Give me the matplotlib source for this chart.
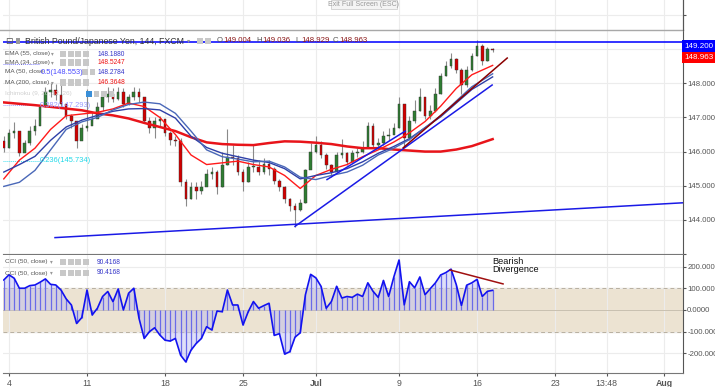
import numpy as np
import matplotlib
matplotlib.use("Agg")
import matplotlib.pyplot as plt
from matplotlib.patches import Rectangle

plt.rcParams["font.family"] = ["Liberation Sans", "DejaVu Sans"]

# ---- data (3 bars per trading day, bar 1 = Mon 4 Jun) ----
closes = [146.10, 146.55, 146.60, 145.95, 146.25, 146.60, 146.75, 147.30, 147.75, 147.80,
          147.65, 147.40, 147.05, 146.90, 146.30, 146.70, 146.75, 146.95, 147.30, 147.60,
          147.70, 147.55, 147.75, 147.40, 147.60, 147.75, 147.60, 146.90, 146.70, 146.90,
          146.95, 146.55, 146.35, 146.30, 145.10, 144.60, 144.95, 144.85, 144.95, 145.35,
          145.40, 144.95, 145.60, 145.85, 145.80, 145.40, 145.10, 145.55, 145.55, 145.40,
          145.65, 145.50, 145.15, 144.95, 144.60, 144.40, 144.30, 144.50, 145.45, 146.00,
          146.20, 145.90, 145.60, 145.40, 145.90, 145.95, 145.70, 145.95, 146.00, 146.10,
          146.75, 146.20, 146.25, 146.45, 146.50, 146.70, 147.40, 146.40, 146.90, 147.20,
          147.60, 147.05, 147.20, 147.70, 148.20, 148.50, 148.70, 148.40, 147.95, 148.40,
          148.80, 149.10, 148.65, 149.004, 148.963]
highs = [146.45, 146.66, 146.88, 146.50, 146.35, 146.75, 146.95, 147.40, 147.90, 148.00,
         147.98, 147.97, 147.40, 147.10, 146.90, 146.80, 147.84, 147.15, 147.45, 147.70,
         147.90, 147.85, 147.90, 147.85, 147.70, 147.90, 147.85, 147.60, 147.00, 147.00,
         147.05, 146.95, 146.60, 146.45, 146.40, 145.20, 145.10, 145.10, 145.15, 145.50,
         145.55, 145.45, 146.00, 146.66, 146.20, 145.90, 145.50, 145.70, 146.20, 145.75,
         145.80, 145.75, 145.55, 145.20, 145.00, 144.65, 144.50, 144.60, 145.50, 146.25,
         146.47, 146.30, 145.95, 145.65, 146.00, 146.38, 146.00, 146.05, 146.10, 146.30,
         146.88, 146.85, 146.40, 146.60, 146.70, 146.85, 147.60, 147.40, 147.05, 147.50,
         147.85, 147.60, 147.35, 147.85, 148.30, 148.65, 148.88, 148.75, 148.45, 148.50,
         148.90, 149.26, 149.15, 149.05, 149.036]
lows = [146.00, 146.10, 146.40, 145.86, 146.00, 146.20, 146.50, 146.90, 147.30, 147.60,
        147.50, 147.30, 146.95, 146.70, 146.10, 146.40, 146.60, 146.85, 147.00, 147.20,
        147.45, 147.45, 147.50, 147.30, 147.35, 147.50, 147.45, 146.85, 146.55, 146.40,
        146.75, 146.45, 146.20, 146.15, 145.00, 144.41, 144.60, 144.60, 144.75, 145.00,
        145.20, 144.75, 144.95, 145.60, 145.60, 145.30, 144.85, 145.10, 145.40, 145.30,
        145.35, 145.30, 145.05, 144.85, 144.50, 144.25, 143.80, 144.25, 144.50, 145.70,
        145.95, 145.80, 145.50, 145.25, 145.40, 145.80, 145.60, 145.70, 145.85, 145.95,
        146.30, 146.10, 146.10, 146.20, 146.35, 146.55, 146.70, 146.14, 146.35, 146.85,
        147.20, 146.95, 146.95, 147.15, 147.70, 148.20, 148.45, 148.30, 147.70, 147.90,
        148.35, 148.80, 148.55, 148.65, 148.929]
first_open = 146.30

# moving averages sampled every 3 bars (last sample at the final bar)
ma_bars = [0, 3, 6, 9, 12, 15, 18, 21, 24, 27, 30, 33, 36, 39, 42, 45,
           48, 51, 54, 57, 60, 63, 66, 69, 72, 75, 78, 81, 84, 87, 90, 94]
ma200 = [147.44, 147.40, 147.36, 147.31, 147.26, 147.21, 147.12, 147.06, 146.97, 146.84,
         146.72, 146.60, 146.42, 146.27, 146.22, 146.20, 146.19, 146.25, 146.30, 146.29,
         146.26, 146.22, 146.15, 146.10, 146.10, 146.06, 146.03, 146.00, 146.00, 146.06,
         146.16, 146.3648]
ema34 = [145.20, 145.75, 146.10, 146.65, 147.05, 147.10, 147.15, 147.25, 147.42, 147.32,
         147.00, 146.50, 145.90, 145.62, 145.67, 145.72, 145.62, 145.55, 145.30, 144.92,
         145.30, 145.48, 145.62, 145.85, 146.05, 146.28, 146.55, 146.88, 147.33, 147.85,
         148.25, 148.5247]
ema55 = [145.40, 145.62, 145.86, 146.33, 146.72, 146.92, 147.06, 147.18, 147.25, 147.26,
         147.22, 146.98, 146.45, 146.12, 145.95, 145.85, 145.75, 145.68, 145.50, 145.20,
         145.30, 145.38, 145.50, 145.70, 145.95, 146.15, 146.38, 146.70, 147.02, 147.42,
         147.82, 148.1880]
ma50 = [144.98, 145.10, 145.45, 146.05, 146.65, 146.87, 147.00, 147.22, 147.38, 147.45,
        147.40, 147.12, 146.60, 146.05, 145.85, 145.78, 145.70, 145.72, 145.55, 145.25,
        145.18, 145.30, 145.40, 145.60, 145.90, 146.10, 146.35, 146.70, 147.05, 147.48,
        147.90, 148.2784]

cci = [138, 162, 146, 100, 100, 112, 115, 128, 143, 118,
       115, 92, 51, 23, -62, -35, 92, -23, 8, 62,
       85, 38, 97, 0, 77, 100, -38, -131, -100, -82,
       -115, -139, -143, -131, -208, -239, -185, -154, -131, -77,
       -92, -5, -8, 92, 23, 23, -69, -8, 39, 8,
       20, 31, -117, -109, -203, -192, -125, -105, 70, 164,
       148, 109, 8, 39, 109, 55, 62, 58, 73, 62,
       125, 86, 58, 136, 62, 152, 230, 23, 130, 102,
       152, 70, 98, 125, 161, 172, 188, 117, 20, 114,
       125, 141, 62, 86, 90.4168]

# drawn lines: (bar, value) end points
resistance = 149.200
support_long = ([9.85, 130.6], [143.48, 144.50])
channel_low = ([56.0, 93.9], [143.81, 147.95])
channel_up = ([62.15, 77.2], [145.18, 146.60])
trend_red = ([76.8, 96.8], [146.11, 148.74])
divergence = ([85.8, 96.0], [184, 120])

tick_days = [0, 5, 10, 15, 19.7, 25, 30, 35, 38.3, 42]
tick_labels = ["4", "11", "18", "25", "Jul", "9", "16", "23", "13:48", "Aug"]

# ---- figure ----
W, H = 715, 387
fig = plt.figure(figsize=(W / 100, H / 100), dpi=100)
fig.patch.set_facecolor("white")


def fx(x):
    return x / W


def fy(y):
    return 1 - y / H


ax = fig.add_axes([fx(3), fy(254), 680 / W, 254 / H])
axc = fig.add_axes([fx(3), fy(373), 680 / W, 118 / H])

bars = np.arange(len(closes))
opens = [first_open] + closes[:-1]
xt = [1 + 3 * d for d in tick_days]
grid_c = "#ececec"

for a in (ax, axc):
    a.set_xlim(-0.15, 130.6)
    a.set_xticks(xt)
    a.grid(True, color=grid_c, lw=0.8)
    a.set_axisbelow(True)
    a.yaxis.tick_right()
    a.tick_params(axis="y", length=2, colors="#555555", labelsize=5.6, pad=1)
    for s in ("top", "left"):
        a.spines[s].set_visible(False)
    a.spines["right"].set_color("#555555")
    a.spines["bottom"].set_color("#777777")

ax.set_ylim(143.48, 150.44)
ax.set_yticks([143, 144, 145, 146, 147, 148, 149, 150])
ax.set_yticklabels(["", "144.000", "145.000", "146.000", "147.000", "148.000", "", ""])
ax.tick_params(axis="x", length=0, labelbottom=False)

# candles
for i in bars:
    o, c = opens[i], closes[i]
    up = c >= o
    ax.vlines(i, lows[i], highs[i], color="#8a8a8a", lw=0.8, zorder=3)
    ax.bar(i, abs(c - o) if abs(c - o) > 0.02 else 0.02, bottom=min(o, c), width=0.5,
           color="#2f7d32" if up else "#d10000", edgecolor="#333333", lw=0.3, zorder=4)

ax.plot(ma_bars, ma200, color="#e8141a", lw=1.8, zorder=5)
ax.plot(ma_bars, ema34, color="#ff1a1a", lw=1.0, zorder=5)
ax.plot(ma_bars, ema55, color="#2e3fa8", lw=1.0, zorder=5)
ax.plot(ma_bars, ma50, color="#4a68b8", lw=1.0, zorder=5)

ax.axhline(resistance, color="#1010ff", lw=1.2, zorder=6)
for (xs, ys), col in ((support_long, "#1a1ae6"), (channel_low, "#1a1ae6"),
                      (channel_up, "#1a1ae6"), (trend_red, "#8b0000")):
    ax.plot(xs, ys, color=col, lw=1.1, zorder=6)

# fib labels
ax.plot([-0.15, 7], [148.553, 148.553], color="#8080ff", lw=0.7, ls=(0, (1, 1)), zorder=2)
ax.plot([-0.15, 7], [147.35, 147.35], color="#a0a0ff", lw=0.7, ls=(0, (1, 1)), zorder=2)
ax.plot([-0.15, 7], [145.734, 145.734], color="#40e0f0", lw=0.7, ls=(0, (1, 1)), zorder=2)
ax.text(7.0, 147.35, "0.382(147.293)", color="#9a9aff", fontsize=5.4, va="center", zorder=7)
ax.text(7.0, 145.734, "0.236(145.734)", color="#20d8e8", fontsize=5.4, va="center", zorder=7)

# CCI pane
axc.set_ylim(-290, 253)
axc.set_yticks([-200, -100, 0, 100, 200])
axc.set_yticklabels(["-200.000", "-100.000", "0.0000", "100.0000", "200.0000"])
axc.axhspan(-100, 100, color="#ece3d2", zorder=0)
axc.axhline(100, color="#b8b0a0", lw=0.7, ls=(0, (4, 3)), zorder=1)
axc.axhline(-100, color="#b8b0a0", lw=0.7, ls=(0, (4, 3)), zorder=1)
axc.axhline(0, color="#c8c0b0", lw=0.7, zorder=1)
axc.fill_between(bars, 0, cci, color="#b8b8f0", alpha=0.45, lw=0, zorder=2)
axc.vlines(bars, 0, cci, color="#6a6ae8", lw=0.9, zorder=3)
axc.plot(bars, cci, color="#1212f0", lw=1.2, zorder=4)
axc.plot(*divergence, color="#a01010", lw=1.1, zorder=5)
axc.text(94.0, 205, "Bearish\nDivergence", fontsize=6.6, color="#111111",
         va="center", ha="left", linespacing=0.95, zorder=6)

axc.set_xticklabels(tick_labels)
axc.tick_params(axis="x", length=2.5, colors="#555555", labelsize=6.3, pad=2)
for lab in axc.get_xticklabels():
    if lab.get_text() in ("Jul", "Aug"):
        lab.set_fontweight("bold")

# price tags on the right axis
fig.text(fx(699), fy(46), "149.200", color="white", fontsize=5.8, ha="center", va="center",
         bbox=dict(boxstyle="square,pad=0.3", fc="#0000ff", ec="none"))
fig.text(fx(699), fy(57.5), "148.963", color="white", fontsize=5.8, ha="center", va="center",
         bbox=dict(boxstyle="square,pad=0.3", fc="#ff0000", ec="none"))

# top frame line and exit button
fig.add_artist(plt.Line2D([fx(0), fx(683)], [fy(30), fy(30)], color="#a8a8a8", lw=1.0))
fig.add_artist(plt.Line2D([fx(683), fx(683)], [fy(0), fy(30)], color="#555555", lw=0.8))
fig.add_artist(Rectangle((fx(331), fy(9)), 66 / W, 9 / H, fc="#f4f4f4", ec="#d0d0d0", lw=0.6))
fig.text(fx(364), fy(4.5), "Exit Full Screen (ESC)", fontsize=5.0, color="#9a9a9a",
         ha="center", va="center")


def icons(x0, y, n=4, first="#c8c8c8"):
    for k in range(n):
        fig.add_artist(Rectangle((fx(x0 + k * 7.5), fy(y + 3)), 6 / W, 6 / H,
                                 fc=first if k == 0 else "#c8c8c8", ec="none"))


# header
fig.text(fx(5), fy(41), "⊟", fontsize=6.5, color="#555555", va="center",
         family=["DejaVu Sans"])
fig.add_artist(Rectangle((fx(16), fy(44)), 4 / W, 6 / H, fc="#999999", ec="none"))
fig.text(fx(25), fy(41), "British Pound/Japanese Yen, 144, FXCM", fontsize=6.3,
         color="#333333", va="center")
fig.text(fx(187), fy(41), "▾", fontsize=4.5, color="#999999", va="center",
         family=["DejaVu Sans"])
icons(197, 41, n=2)
vals = [("O", "149.004", 217), ("H", "149.036", 256), ("L", "148.929", 295), ("C", "148.963", 333)]
for k, v, x0 in vals:
    fig.text(fx(x0), fy(41), k, fontsize=5.6, color="#555555", va="center")
    fig.text(fx(x0 + 6), fy(41), v, fontsize=5.6, color="#8b1a1a", va="center")

legend = [("EMA (55, close)", "148.1880", "#3434c8", 54),
          ("EMA (34, close)", "148.5247", "#ee1111", 62.5),
          ("MA (50, close", "148.2784", "#3434c8", 72),
          ("MA (200, close)", "146.3648", "#ee1111", 82.5)]
for name, val, col, y in legend:
    fig.text(fx(5), fy(y), name, fontsize=4.6, color="#555555", va="center")
    if not name.endswith("close"):
        fig.text(fx(51), fy(y), "▾", fontsize=4, color="#999999", va="center",
                 family=["DejaVu Sans"])
        icons(60, y)
    else:
        icons(82, y, n=2)
    fig.text(fx(98), fy(y), val, fontsize=4.8, color=col, va="center")
fig.text(fx(41), fy(72), "0.5(148.553)", fontsize=5.4, color="#4a4aff", va="center")
fig.text(fx(5), fy(94), "Ichimoku (9, 26, 52, 26)", fontsize=4.6, color="#d0d0d0", va="center")
icons(86, 94, n=4, first="#3a8fd8")

for y in (262, 273):
    fig.text(fx(5), fy(y), "CCI (50, close)", fontsize=4.6, color="#555555", va="center")
    fig.text(fx(50), fy(y), "▾", fontsize=4, color="#999999", va="center",
             family=["DejaVu Sans"])
    icons(60, y)
    fig.text(fx(97), fy(y), "90.4168", fontsize=4.8, color="#3434c8", va="center")

fig.savefig("out.png", dpi=100)
